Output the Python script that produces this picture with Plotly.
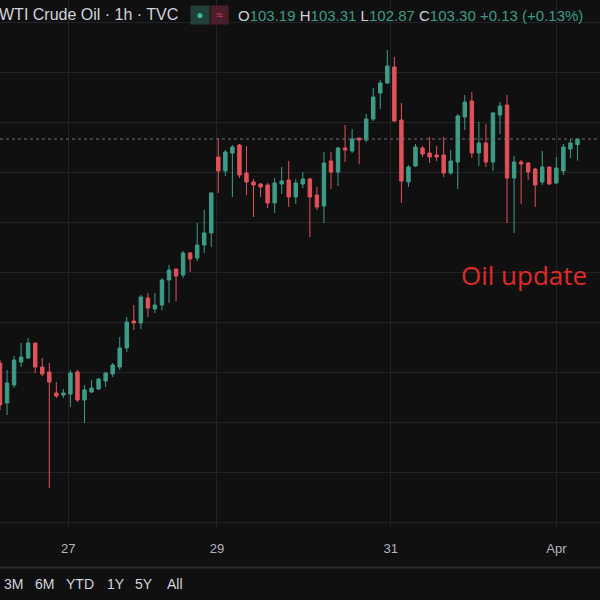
import plotly.graph_objects as go

opens = [98.82,98.02,98.38,98.84,98.92,99.22,98.74,98.64,98.22,98.18,98.20,98.64,98.08,98.24,98.30,98.46,98.60,98.74,
 99.12,99.66,99.62,100.12,99.90,99.98,100.48,100.70,100.58,101.02,100.92,101.18,101.42,102.94,102.66,
 103.02,103.18,102.62,102.44,102.40,102.38,102.02,102.40,102.48,102.14,102.40,102.50,102.18,101.96,102.86,102.64,
 103.12,103.06,103.32,103.28,103.70,104.22,104.42,104.74,103.68,102.44,102.76,103.12,103.02,102.98,102.98,102.62,
 102.84,103.74,104.06,103.02,103.22,102.84,103.78,103.98,102.52,102.84,102.82,102.70,102.44,102.74,102.42,102.66,103.10,103.19]
highs = [98.88,98.68,98.96,99.22,99.32,99.22,98.92,98.82,98.44,98.30,98.68,98.68,98.38,98.48,98.52,98.64,98.82,99.34,
 99.74,99.98,100.18,100.22,100.22,100.52,100.78,100.70,101.06,101.04,101.62,101.88,102.24,103.32,103.08,
 103.18,103.20,103.16,102.50,102.42,102.42,102.52,102.74,102.86,102.50,102.64,102.52,102.34,103.04,103.04,103.14,
 103.58,103.50,103.32,103.80,104.32,104.48,105.08,104.94,104.02,102.78,103.20,103.16,103.34,103.16,103.34,103.08,
 103.80,104.18,104.24,103.64,103.60,103.84,104.04,104.18,102.96,102.88,102.84,102.72,103.06,102.74,102.94,103.20,103.30,103.31]
lows = [97.88,97.78,98.32,98.74,98.90,98.62,98.56,96.32,98.12,98.12,97.94,98.04,97.62,98.22,98.28,98.34,98.54,98.68,
 99.04,99.48,99.50,99.74,99.82,99.88,100.02,100.06,100.52,100.64,100.86,101.02,101.14,102.22,102.56,
 102.14,102.52,102.18,101.74,102.14,101.92,101.82,102.20,101.94,102.00,102.32,101.34,101.88,101.62,102.30,102.36,
 102.84,103.02,102.80,103.24,103.66,103.90,104.40,103.64,102.02,102.34,102.74,102.94,102.82,102.86,102.54,102.58,
 102.30,103.48,102.92,102.76,102.74,102.66,103.40,101.62,101.42,102.00,102.48,101.94,102.38,102.38,102.40,102.58,102.92,102.87]
closes = [97.98,98.42,98.88,98.94,99.22,98.74,98.60,98.44,98.16,98.22,98.62,98.08,98.28,98.32,98.50,98.62,98.78,99.12,
 99.64,99.62,100.14,99.92,99.98,100.48,100.68,100.56,101.02,100.90,101.18,101.42,102.22,102.66,103.04,
 103.14,102.58,102.44,102.38,102.34,102.02,102.42,102.46,102.14,102.42,102.50,102.14,101.94,102.82,102.64,103.12,
 103.08,103.30,103.28,103.70,104.14,104.42,104.76,103.66,102.46,102.74,103.14,103.00,102.94,102.94,102.62,102.86,
 103.76,104.04,103.02,103.22,102.84,103.82,103.96,102.52,102.84,102.80,102.64,102.38,102.74,102.40,102.72,103.14,103.22,103.30]
tick_pos = [9.7, 30.8, 55.5, 79.0]
tick_labels = ["27", "29", "31", "Apr"]
buttons = ["3M", "6M", "YTD", "1Y", "5Y", "All"]

idx = list(range(len(opens)))
GREEN = "#3d9c86"
RED = "#e0525a"
fig = go.Figure(go.Candlestick(
    x=idx, open=opens, high=highs, low=lows, close=closes,
    increasing=dict(line=dict(color=GREEN, width=1), fillcolor=GREEN),
    decreasing=dict(line=dict(color=RED, width=1), fillcolor=RED),
    whiskerwidth=0, hoverinfo="skip"))

fig.add_hline(y=closes[-1], line=dict(color="#6b6e75", width=1, dash="dot"))

fig.update_layout(
    width=600, height=600, margin=dict(l=0, r=0, t=0, b=73, pad=0, autoexpand=False),
    paper_bgcolor="#101010", plot_bgcolor="#101010",
    showlegend=False,
    font=dict(family="Liberation Sans", color="#d1d4dc"),
    xaxis=dict(range=[0, 85.2], rangeslider=dict(visible=False), tickmode="array",
               tickvals=tick_pos, ticktext=tick_labels, showgrid=True, gridcolor="#222326",
               zeroline=False, showline=False, ticks="", ticklabelstandoff=12,
               tickfont=dict(size=13, color="#b2b5be")),
    yaxis=dict(range=[95.54, 106.08], showticklabels=False, showgrid=True, gridcolor="#222326",
               tick0=103.64, dtick=1, zeroline=False),
)

fig.add_annotation(xref="paper", yref="paper", x=0.765, y=0.478, text="Oil update",
                   showarrow=False, xanchor="left", font=dict(size=26, color="#e02a2a", family="Open Sans"))

header = "WTI Crude Oil · 1h · TVC"
fig.add_annotation(xref="paper", yref="paper", x=-0.005, y=1.0, yanchor="top", yshift=-4, xanchor="left",
                   text=header, showarrow=False, font=dict(size=16, color="#d1d4dc"))
fig.add_annotation(xref="paper", yref="paper", x=0.317, y=1.0, yanchor="top", yshift=-5, xanchor="left",
                   text=" ● ", showarrow=False, bgcolor="#22403a", borderpad=2,
                   font=dict(size=12, color="#3bb795"))
fig.add_annotation(xref="paper", yref="paper", x=0.350, y=1.0, yanchor="top", yshift=-5, xanchor="left",
                   text=" ≈ ", showarrow=False, bgcolor="#4a1e2a", borderpad=2,
                   font=dict(size=12, color="#e0345e"))
ohlc = ("O<span style='color:#3d9c86'>103.19</span> H<span style='color:#3d9c86'>103.31</span> "
        "L<span style='color:#3d9c86'>102.87</span> C<span style='color:#3d9c86'>103.30</span> "
        "<span style='color:#3d9c86'>+0.13 (+0.13%)</span>")
fig.add_annotation(xref="paper", yref="paper", x=0.393, y=1.0, yanchor="top", yshift=-5, xanchor="left",
                   text=ohlc, showarrow=False, font=dict(size=15, color="#d1d4dc"))

fig.add_shape(type="line", xref="paper", yref="paper", x0=0, x1=1, y0=-0.077, y1=-0.077,
              line=dict(color="#2a2b2e", width=2))
bx = [0.003, 0.055, 0.107, 0.175, 0.222, 0.275]
for b, xx in zip(buttons, bx):
    fig.add_annotation(xref="paper", yref="paper", x=xx, y=-0.128, text=b, showarrow=False,
                       xanchor="left", font=dict(size=14, color="#d1d4dc"))

fig.write_html("out.html", config={"displayModeBar": False},
               post_script="document.body.style.margin='0';document.body.style.background='#101010';")
